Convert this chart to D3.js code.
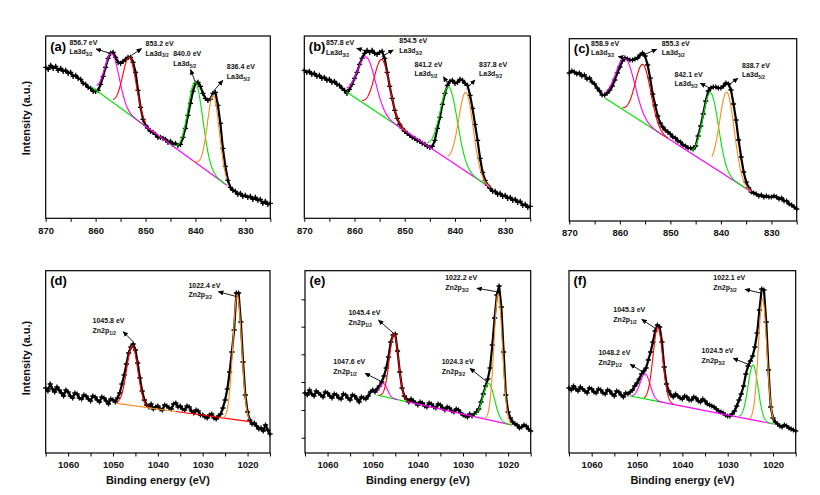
<!DOCTYPE html>
<html><head><meta charset="utf-8">
<script src="https://cdn.jsdelivr.net/npm/d3@7"></script>
<style>
body{margin:0;background:#fff}
svg{display:block}
text{font-family:"Liberation Sans",Arial,Helvetica,sans-serif;font-weight:bold}
</style>
</head><body>
<svg id="chart" width="820" height="495"></svg>
<script>
// ---------------- DATA ----------------
const laTickLabels = [870, 860, 850, 840, 830];
const laMinorTicks = [865, 855, 845, 835, 825];
const znTickLabels = [1060, 1050, 1040, 1030, 1020];
const znMinorTicks = [1065, 1055, 1045, 1035, 1025, 1015];
const yTicksE = [15.3, 43, 71, 98.7, 126.3, 153.7];

// measured spectra: [binding energy (eV), intensity (a.u.)]
const spectrumA = [[870,151],[869.5,149],[869,153],[868.5,150],[868,152],[867.5,148],[867,150],[866.5,147],[866,148],[865.5,145],[865,146],[864.5,142],[864,143],[863.5,140],[863,139],[862.5,135],[862,134],[861.5,131],[861,130],[860.5,127],[860,127],[859.5,128],[859,134],[858.5,142],[858,151],[857.5,160],[857,165],[856.5,166],[856,161],[855.5,156],[855,155],[854.5,157],[854,159],[853.5,161],[853,161],[852.5,156],[852,146],[851.5,128],[851,111],[850.5,99],[850,93],[849.5,90],[849,87],[848.5,86],[848,84],[847.5,81],[847,81],[846.5,80],[846,79],[845.5,76],[845,77],[844.5,74],[844,75],[843.5,73],[843,74],[842.5,81],[842,90],[841.5,103],[841,115],[840.5,127],[840,135],[839.5,136],[839,132],[838.5,125],[838,120],[837.5,118],[837,119],[836.5,125],[836,126],[835.5,113],[835,95],[834.5,70],[834,52],[833.5,38],[833,31],[832.5,28],[832,27],[831.5,24],[831,25],[830.5,22],[830,23],[829.5,21],[829,22],[828.5,19],[828,21],[827.5,18],[827,19],[826.5,15],[826,17],[825.5,14],[825,15]];
const spectrumB = [[870,148],[869.5,146],[869,147],[868.5,144],[868,145],[867.5,142],[867,143],[866.5,140],[866,141],[865.5,138],[865,139],[864.5,136],[864,137],[863.5,134],[863,133],[862.5,130],[862,128],[861.5,125],[861,129],[860.5,134],[860,140],[859.5,146],[859,154],[858.5,160],[858,165],[857.5,168],[857,166],[856.5,168],[856,165],[855.5,164],[855,166],[854.5,167],[854,160],[853.5,146],[853,132],[852.5,120],[852,108],[851.5,100],[851,94],[850.5,90],[850,87],[849.5,85],[849,83],[848.5,81],[848,80],[847.5,78],[847,77],[846.5,75],[846,74],[845.5,72],[845,71],[844.5,72],[844,78],[843.5,90],[843,101],[842.5,114],[842,125],[841.5,133],[841,137],[840.5,138],[840,135],[839.5,136],[839,139],[838.5,138],[838,135],[837.5,133],[837,123],[836.5,110],[836,94],[835.5,78],[835,60],[834.5,46],[834,38],[833.5,33],[833,30],[832.5,27],[832,27],[831.5,24],[831,25],[830.5,22],[830,23],[829.5,20],[829,21],[828.5,18],[828,19],[827.5,16],[827,17],[826.5,13],[826,14],[825.5,11],[825,12]];
const spectrumC = [[870,148],[869.5,150],[869,149],[868.5,147],[868,148],[867.5,145],[867,146],[866.5,142],[866,143],[865.5,139],[865,137],[864.5,133],[864,130],[863.5,126],[863,126],[862.5,128],[862,131],[861.5,135],[861,141],[860.5,148],[860,154],[859.5,160],[859,163],[858.5,162],[858,161],[857.5,161],[857,162],[856.5,163],[856,166],[855.5,168],[855,165],[854.5,156],[854,143],[853.5,127],[853,116],[852.5,105],[852,98],[851.5,94],[851,91],[850.5,89],[850,87],[849.5,84],[849,83],[848.5,80],[848,79],[847.5,76],[847,75],[846.5,73],[846,73],[845.5,72],[845,75],[844.5,85],[844,95],[843.5,107],[843,120],[842.5,130],[842,133],[841.5,134],[841,134],[840.5,133],[840,133],[839.5,135],[839,138],[838.5,137],[838,131],[837.5,117],[837,101],[836.5,81],[836,64],[835.5,49],[835,39],[834.5,33],[834,29],[833.5,28],[833,27],[832.5,25],[832,26],[831.5,24],[831,25],[830.5,24],[830,24],[829.5,25],[829,24],[828.5,22],[828,23],[827.5,20],[827,20],[826.5,17],[826,16],[825.5,14],[825,12]];
const spectrumD = [[1065,65],[1064.5,62],[1064,69],[1063.5,64],[1063,61],[1062.5,66],[1062,63],[1061.5,60],[1061,57],[1060.5,63],[1060,61],[1059.5,57],[1059,55],[1058.5,60],[1058,59],[1057.5,55],[1057,54],[1056.5,58],[1056,57],[1055.5,54],[1055,52],[1054.5,57],[1054,56],[1053.5,53],[1053,51],[1052.5,56],[1052,55],[1051.5,52],[1051,49],[1050.5,54],[1050,53],[1049.5,51],[1049,55],[1048.5,60],[1048,69],[1047.5,78],[1047,89],[1046.5,100],[1046,106],[1045.5,109],[1045,103],[1044.5,90],[1044,75],[1043.5,62],[1043,53],[1042.5,48],[1042,46],[1041.5,49],[1041,44],[1040.5,46],[1040,47],[1039.5,44],[1039,43],[1038.5,48],[1038,47],[1037.5,45],[1037,44],[1036.5,49],[1036,50],[1035.5,46],[1035,47],[1034.5,44],[1034,43],[1033.5,47],[1033,46],[1032.5,42],[1032,40],[1031.5,43],[1031,42],[1030.5,38],[1030,38],[1029.5,36],[1029,35],[1028.5,38],[1028,39],[1027.5,35],[1027,34],[1026.5,37],[1026,39],[1025.5,45],[1025,53],[1024.5,64],[1024,81],[1023.5,101],[1023,123],[1022.5,160],[1022,160],[1021.5,131],[1021,91],[1020.5,58],[1020,41],[1019.5,33],[1019,29],[1018.5,30],[1018,27],[1017.5,24],[1017,25],[1016.5,22],[1016,28],[1015.5,23],[1015,19]];
const spectrumE = [[1065,60],[1064.5,58],[1064,63],[1063.5,59],[1063,57],[1062.5,62],[1062,60],[1061.5,58],[1061,56],[1060.5,61],[1060,60],[1059.5,57],[1059,55],[1058.5,59],[1058,58],[1057.5,55],[1057,54],[1056.5,59],[1056,58],[1055.5,55],[1055,53],[1054.5,58],[1054,57],[1053.5,54],[1053,51],[1052.5,56],[1052,55],[1051.5,54],[1051,57],[1050.5,61],[1050,63],[1049.5,61],[1049,64],[1048.5,67],[1048,71],[1047.5,77],[1047,85],[1046.5,96],[1046,111],[1045.5,118],[1045,119],[1044.5,102],[1044,81],[1043.5,65],[1043,57],[1042.5,54],[1042,51],[1041.5,54],[1041,52],[1040.5,50],[1040,48],[1039.5,51],[1039,50],[1038.5,47],[1038,46],[1037.5,50],[1037,49],[1036.5,46],[1036,45],[1035.5,49],[1035,48],[1034.5,45],[1034,43],[1033.5,46],[1033,45],[1032.5,42],[1032,41],[1031.5,44],[1031,43],[1030.5,40],[1030,38],[1029.5,37],[1029,36],[1028.5,39],[1028,37],[1027.5,39],[1027,41],[1026.5,44],[1026,51],[1025.5,59],[1025,67],[1024.5,74],[1024,85],[1023.5,108],[1023,135],[1022.5,158],[1022,167],[1021.5,146],[1021,101],[1020.5,58],[1020,41],[1019.5,35],[1019,31],[1018.5,29],[1018,28],[1017.5,25],[1017,26],[1016.5,28],[1016,27],[1015.5,24],[1015,22]];
const spectrumF = [[1065,65],[1064.5,63],[1064,67],[1063.5,64],[1063,62],[1062.5,66],[1062,64],[1061.5,62],[1061,60],[1060.5,65],[1060,64],[1059.5,61],[1059,60],[1058.5,64],[1058,63],[1057.5,60],[1057,59],[1056.5,63],[1056,62],[1055.5,59],[1055,57],[1054.5,62],[1054,61],[1053.5,58],[1053,56],[1052.5,60],[1052,59],[1051.5,61],[1051,63],[1050.5,67],[1050,70],[1049.5,74],[1049,79],[1048.5,82],[1048,85],[1047.5,93],[1047,101],[1046.5,111],[1046,122],[1045.5,128],[1045,126],[1044.5,111],[1044,86],[1043.5,69],[1043,62],[1042.5,58],[1042,56],[1041.5,59],[1041,57],[1040.5,55],[1040,54],[1039.5,57],[1039,56],[1038.5,53],[1038,53],[1037.5,56],[1037,55],[1036.5,52],[1036,51],[1035.5,54],[1035,52],[1034.5,49],[1034,48],[1033.5,47],[1033,46],[1032.5,44],[1032,42],[1031.5,41],[1031,40],[1030.5,38],[1030,37],[1029.5,37],[1029,39],[1028.5,42],[1028,47],[1027.5,53],[1027,59],[1026.5,67],[1026,79],[1025.5,87],[1025,92],[1024.5,97],[1024,106],[1023.5,120],[1023,143],[1022.5,164],[1022,163],[1021.5,131],[1021,83],[1020.5,46],[1020,35],[1019.5,31],[1019,29],[1018.5,27],[1018,26],[1017.5,28],[1017,27],[1016.5,25],[1016,24],[1015.5,23],[1015,22]];

// fitted components: [centre (eV), height (a.u.), FWHM (eV)]
const peaksA = [[856.7,48,3.4],[853.2,57,3.2],[840.0,80,3.5],[836.4,80,2.8]];
const peaksB = [[857.6,48,4.2],[854.5,56,3.6],[841.2,73,4.0],[837.8,79,3.4]];
const peaksC = [[858.9,52.8,4.5],[855.4,58,3.6],[842.0,73,3.6],[838.8,84,3.4]];
const peaksD = [[1045.7,60,2.9],[1022.3,125,2.3]];
const peaksE = [[1047.6,13,2.0],[1045.3,65,2.4],[1024.3,36.5,3.0],[1022.2,128,2.2]];
const peaksF = [[1048.2,25,2.6],[1045.4,74,2.5],[1024.4,55,2.6],[1022.3,123,2.2]];

// linear backgrounds: [[eV, a.u.], [eV, a.u.]]
const backgroundA = [[860.8,131.3],[833.7,33]];
const backgroundB = [[861.6,126.4],[833,30.7]];
const backgroundC = [[862.9,122.7],[834,29.2]];
const backgroundD = [[1049.2,49.7],[1019.5,31.3]];
const backgroundE = [[1049.1,58],[1019.2,28]];
const backgroundF = [[1051.5,57],[1019.9,29]];

// peak annotations: [energy text, level, sub-shell, arrow eV, arrow a.u.]
const labelsA = [["856.7 eV","La3d","3/2",857.1,165],["853.2 eV","La3d","3/2",852.8,163],["840.0 eV","La3d","5/2",840.1,137],["836.4 eV","La3d","5/2",836.4,127]];
const labelsB = [["857.8 eV","La3d","3/2",857.25,166.6],["854.5 eV","La3d","3/2",854.6,161.6],["841.2 eV","La3d","5/2",841.3,133.3],["837.8 eV","La3d","5/2",837.65,130]];
const labelsC = [["858.9 eV","La3d","3/2",858.3,162.7],["855.3 eV","La3d","3/2",855.35,166],["842.1 eV","La3d","5/2",842.1,132.7],["838.7 eV","La3d","5/2",838.5,136]];
const labelsD = [["1045.8 eV","Zn2p","1/2",1045.5,111.3],["1022.4 eV","Zn2p","3/2",1022.4,156.3]];
const labelsE = [["1047.6 eV","Zn2p","1/2",1048.0,71.3],["1045.4 eV","Zn2p","1/2",1045.4,119.7],["1024.3 eV","Zn2p","3/2",1024.75,71.3],["1022.2 eV","Zn2p","3/2",1022.5,161.3]];
const labelsF = [["1048.2 eV","Zn2p","1/2",1048.2,79.7],["1045.3 eV","Zn2p","1/2",1045.65,123.7],["1024.5 eV","Zn2p","3/2",1025.1,88],["1022.1 eV","Zn2p","3/2",1022.5,159.7]];

// ---------------- LAYOUT / STYLE ----------------
const MAG='#ff00ff', RED='#ff0000', GRN='#00e400', ORG='#ff8a1e';
const panels = [
 {tag:'(a)', x0:45.7, x1:270.3, y0:36, y1:218.3, dom:[870,825], ticks:laTickLabels, minor:laMinorTicks,
  spec:spectrumA, peaks:peaksA, base:backgroundA, labels:labelsA,
  colors:[MAG,RED,GRN,ORG], ranges:[[859.8,849.5],[856.5,850],[844.5,834],[840.5,833.7]], split:850, baseCols:[GRN,MAG],
  ann:[[-14,-4.3,-40.7,-8.6],[10,-6.7,14,-9.5],[-4.3,-11.7,-21.7,-25],[9.4,-11,13.4,-22]]},
 {tag:'(b)', x0:304.3, x1:530.3, y0:36, y1:218.3, dom:[870,825], ticks:laTickLabels, minor:laMinorTicks,
  spec:spectrumB, peaks:peaksB, base:backgroundB, labels:labelsB,
  colors:[MAG,RED,GRN,ORG], ranges:[[861.6,849.6],[858.5,849.6],[845.5,834],[841.5,833]], split:849.6, baseCols:[GRN,MAG],
  ann:[[-11.6,-3.4,-42.3,-6.7],[11.6,-6.7,17.6,-13.7],[-5,-8.3,-34,-18.5],[8.3,-8.3,12.3,-21.8]]},
 {tag:'(c)', x0:569.3, x1:796.7, y0:38.7, y1:221, dom:[870,825], ticks:laTickLabels, minor:laMinorTicks,
  spec:spectrumC, peaks:peaksC, base:backgroundC, labels:labelsC,
  colors:[MAG,RED,GRN,ORG], ranges:[[862.9,851],[859.5,850.5],[846,835],[841.8,834]], split:851, baseCols:[GRN,MAG],
  ann:[[-10,-1.6,-37.3,-12.8],[13.4,-5.7,18.4,-9.5],[-10,-5,-35.7,-11.8],[9.4,-6.7,13.4,-17.5]]},
 {tag:'(d)', x0:45.7, x1:270, y0:270.7, y1:453, dom:[1065,1015], ticks:znTickLabels, minor:znMinorTicks,
  spec:spectrumD, peaks:peaksD, base:backgroundD, labels:labelsD,
  colors:[RED,ORG], ranges:[[1049.2,1042],[1026,1019.5]], split:1036, baseCols:[ORG,RED],
  ann:[[-10,-10,-40.6,-18.4],[-18.4,-5,-48.4,-9]]},
 {tag:'(e)', x0:305, x1:530.7, y0:270.7, y1:453, dom:[1065,1015], ticks:znTickLabels, minor:znMinorTicks,
  spec:spectrumE, peaks:peaksE, base:backgroundE, labels:labelsE,
  colors:[MAG,RED,GRN,ORG], ranges:[[1049.1,1044.5],[1048.5,1042],[1027.5,1019.2],[1025.5,1019.2]], split:1042.5, baseCols:[GRN,MAG],
  ann:[[-16.7,-8.4,-48.4,-17.4],[-15,-13.3,-45,-18.3],[-16.7,-13.4,-45,-17.7],[-20,-3.4,-51.7,-11.4]], yTicks:yTicksE},
 {tag:'(f)', x0:569, x1:795.7, y0:270.7, y1:453, dom:[1065,1015], ticks:znTickLabels, minor:znMinorTicks,
  spec:spectrumF, peaks:peaksF, base:backgroundF, labels:labelsF,
  colors:[MAG,RED,GRN,ORG], ranges:[[1051.2,1044.5],[1048.5,1042],[1027.5,1019.9],[1025.5,1019.9]], split:1044.6, baseCols:[GRN,MAG],
  ann:[[-15,-9,-46.7,-18],[-15,-10,-43.4,-17],[-16.7,-6.7,-48.3,-12],[-16.7,-4,-48.4,-13]]}
];

// ---------------- DRAW ----------------
const svg = d3.select('#chart');
svg.append('rect').attr('width',820).attr('height',495).attr('fill','#fff');
svg.append('defs').append('marker').attr('id','ah').attr('viewBox','0 0 10 10')
  .attr('refX',9).attr('refY',5).attr('markerWidth',5.5).attr('markerHeight',5.5)
  .attr('markerUnits','userSpaceOnUse').attr('orient','auto')
  .append('path').attr('d','M0,0.5L10,5L0,9.5z').attr('fill','#000');

const fmt = d3.format('d');

panels.forEach((p,pi)=>{
  const x = d3.scaleLinear().domain(p.dom).range([p.x0,p.x1]);
  const y = d3.scaleLinear().domain([0,182.3]).range([p.y1,p.y0]);
  const g = svg.append('g');
  const [b0,b1] = p.base;
  const bg = e => b0[1] + (e-b0[0])*(b1[1]-b0[1])/(b1[0]-b0[0]);
  const line = d3.line().x(d=>x(d[0])).y(d=>y(d[1]));

  // measured data
  g.append('path').datum(p.spec).attr('d',line).attr('fill','none')
    .attr('stroke','#000').attr('stroke-width',2.2).attr('stroke-linejoin','round');
  g.append('path')
    .attr('d', p.spec.map(d=>{const X=x(d[0]),Y=y(d[1]);return `M${X-2.6},${Y}h5.2M${X},${Y-2.6}v5.2`;}).join(''))
    .attr('stroke','#000').attr('stroke-width',1.3).attr('fill','none');

  // background
  [[b0[0],p.split,p.baseCols[0]],[p.split,b1[0],p.baseCols[1]]].forEach(([e1,e2,c])=>{
    g.append('path').datum([[e1,bg(e1)],[e2,bg(e2)]]).attr('d',line)
      .attr('fill','none').attr('stroke',c).attr('stroke-width',1.2);
  });

  // fitted components
  p.peaks.forEach((pk,i)=>{
    const [hi,lo] = p.ranges[i];
    const es = d3.range(hi, lo-1e-6, -0.05).concat([lo]);
    const pts = es.map(e=>[e, bg(e) + pk[1]*Math.exp(-4*Math.LN2*(e-pk[0])**2/(pk[2]**2))]);
    g.append('path').datum(pts).attr('d',line).attr('fill','none')
      .attr('stroke',p.colors[i]).attr('stroke-width',1.1);
  });

  // frame
  g.append('rect').attr('x',p.x0).attr('y',p.y0).attr('width',p.x1-p.x0).attr('height',p.y1-p.y0)
    .attr('fill','none').attr('stroke','#000').attr('stroke-width',1.2);

  // x axis
  const ax = g.append('g').attr('transform',`translate(0,${p.y1})`)
    .call(d3.axisBottom(x).tickValues(p.ticks).tickFormat(fmt).tickSize(3.5).tickPadding(5).tickSizeOuter(0));
  ax.select('.domain').remove();
  ax.selectAll('line').attr('stroke','#000').attr('stroke-width',1);
  ax.selectAll('text').attr('font-size',9.5).attr('fill','#111');
  const axm = g.append('g').attr('transform',`translate(0,${p.y1})`)
    .call(d3.axisBottom(x).tickValues(p.minor).tickSize(3.5).tickFormat('').tickSizeOuter(0));
  axm.select('.domain').remove();
  axm.selectAll('line').attr('stroke','#000').attr('stroke-width',1);

  if (p.yTicks) {
    const ay = g.append('g').attr('transform',`translate(${p.x0},0)`)
      .call(d3.axisLeft(y).tickValues(p.yTicks).tickSize(3.5).tickFormat('').tickSizeOuter(0));
    ay.select('.domain').remove();
    ay.selectAll('line').attr('stroke','#000');
  }

  // panel tag
  g.append('text').attr('x',p.x0+4.5).attr('y',p.y0+14.5).attr('font-size',13).attr('fill','#000').text(p.tag);

  // annotations
  p.labels.forEach((lb,i)=>{
    const [hx,hy,tx,ty] = p.ann[i];
    const X = x(lb[3]), Y = y(lb[4]);
    g.append('line').attr('x1',X).attr('y1',Y).attr('x2',X+hx).attr('y2',Y+hy)
      .attr('stroke','#000').attr('stroke-width',0.9).attr('marker-end','url(#ah)');
    g.append('text').attr('x',X+tx).attr('y',Y+ty).attr('font-size',7).attr('fill','#111').text(lb[0]);
    const t2 = g.append('text').attr('x',X+tx).attr('y',Y+ty+9.7).attr('font-size',7).attr('fill','#111');
    t2.append('tspan').text(lb[1]);
    t2.append('tspan').attr('font-size',4.8).attr('dy',1.8).text(lb[2]);
  });

  // axis titles
  if (pi >= 3) {
    g.append('text').attr('x',(p.x0+p.x1)/2).attr('y',484).attr('text-anchor','middle')
      .attr('font-size',11).attr('fill','#111').text('Binding energy (eV)');
  }
  if (pi === 0 || pi === 3) {
    const cy = pi===0 ? 118 : 358;
    g.append('text').attr('transform',`translate(30,${cy}) rotate(-90)`).attr('text-anchor','middle')
      .attr('font-size',11).attr('fill','#111').text('Intensity (a.u.)');
  }
});
</script>
</body></html>
